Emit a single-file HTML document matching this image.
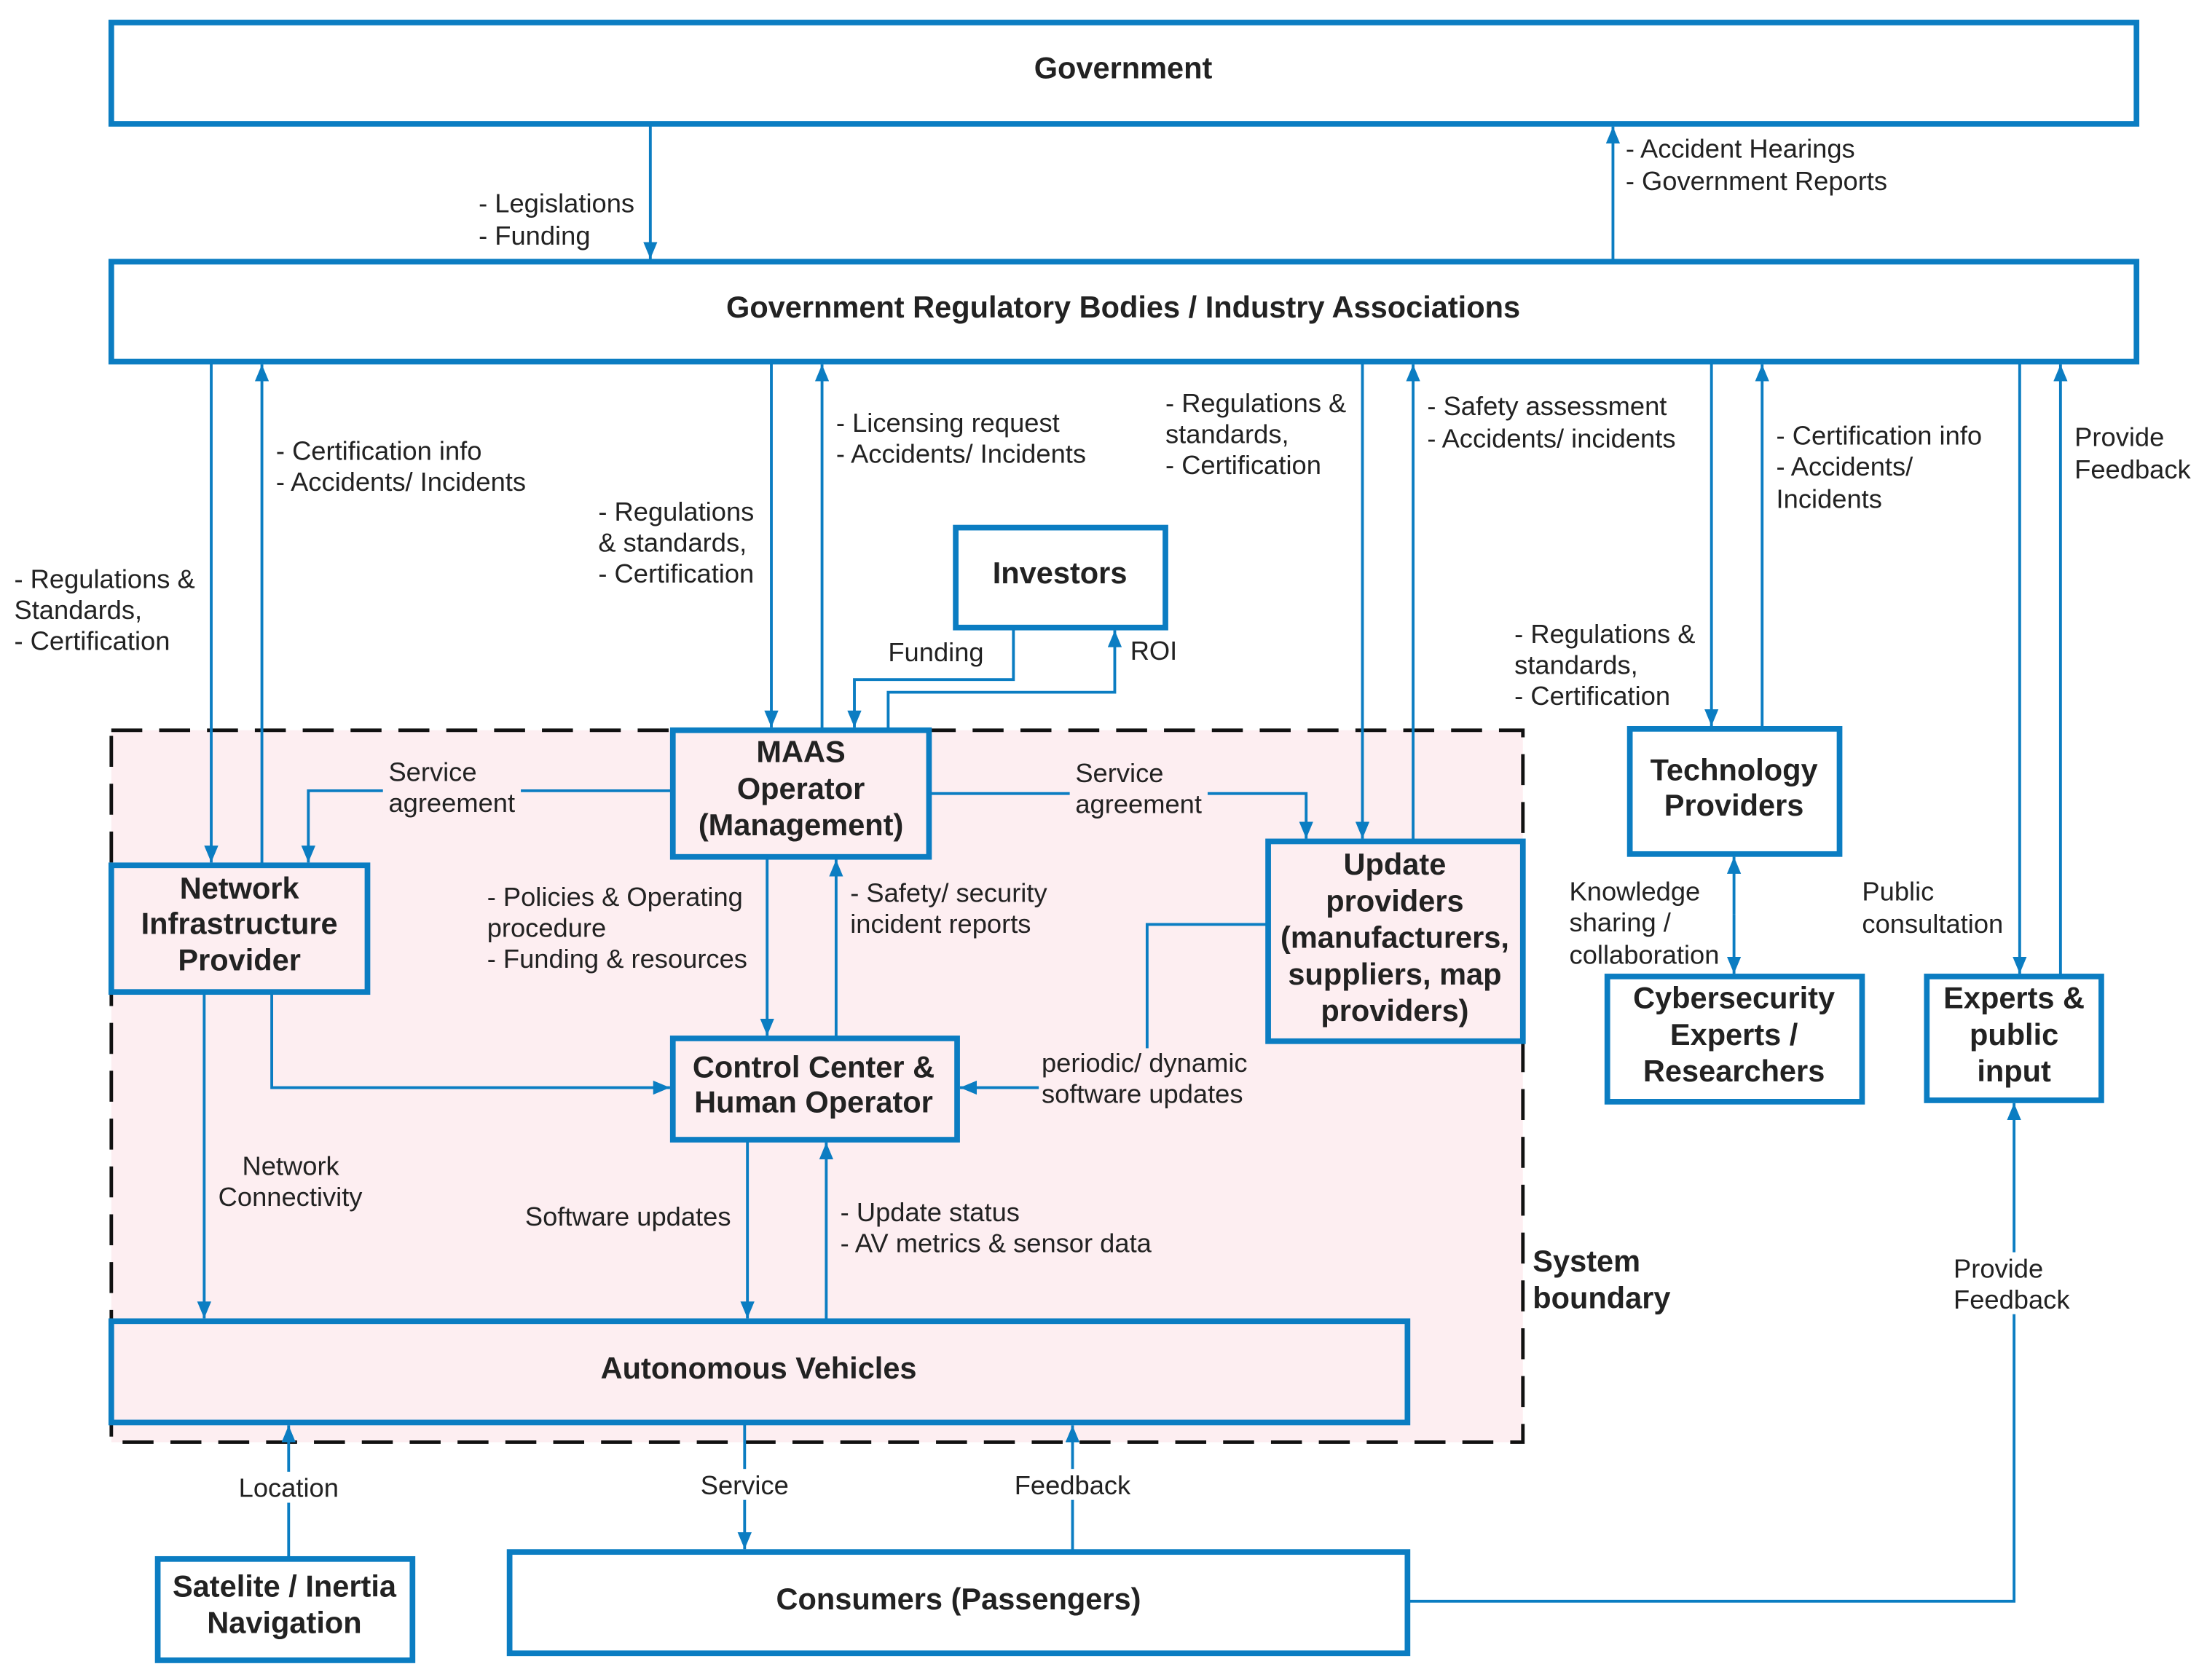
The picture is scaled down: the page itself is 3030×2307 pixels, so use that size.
<!DOCTYPE html>
<html><head><meta charset="utf-8"><style>
html,body{margin:0;padding:0;background:#fff;}
svg{display:block;}
text{font-family:"Liberation Sans",Arial,sans-serif;fill:#222;}
.l{font-size:18.8px;}
.b{font-size:21.5px;font-weight:bold;fill:#111;}
.bx{fill:#fff;stroke:#0b7dc2;stroke-width:4;}
.pk{fill:#fdeef1;stroke:#0b7dc2;stroke-width:4;}
.ln{fill:none;stroke:#0b7dc2;stroke-width:2;}
</style></head><body>
<svg width="3030" height="2307" viewBox="0 0 1568 1194" xmlns="http://www.w3.org/2000/svg">
<defs>
<marker id="a" viewBox="0 0 12 10" refX="12" refY="5" markerWidth="12" markerHeight="10" markerUnits="userSpaceOnUse" orient="auto">
<path d="M0,0 L12,5 L0,10 z" fill="#0b7dc2"/></marker>
</defs>
<rect width="1568" height="1194" fill="#fff"/>
<rect x="79" y="519" width="1003" height="506" fill="#fdeef1" stroke="#111" stroke-width="2.5" stroke-dasharray="22,12"/>

<g class="ln" marker-end="url(#a)">
<path d="M462,88 V184"/>
<path d="M1146,186 V90"/>
<path d="M150,257 V613"/>
<path d="M186,615 V259"/>
<path d="M548,257 V517"/>
<path d="M584,519 V259"/>
<path d="M720,446 V483 H607 V517"/>
<path d="M631,519 V492 H792 V448"/>
<path d="M968,257 V596"/>
<path d="M1004,598 V259"/>
<path d="M1216,257 V516"/>
<path d="M1252,518 V259"/>
<path d="M1435,257 V692"/>
<path d="M1464,694 V259"/>
<path d="M478,562 H219 V613"/>
<path d="M660,564 H928 V596"/>
<path d="M545,609 V736"/>
<path d="M594,738 V611"/>
<path d="M193,705 V773 H476"/>
<path d="M901,657 H815 V773 H682"/>
<path d="M145,705 V937"/>
<path d="M531,810 V937"/>
<path d="M587,939 V812"/>
<path d="M205,1108 V1013"/>
<path d="M529,1011 V1101"/>
<path d="M762,1103 V1013"/>
<path d="M1000,1138 H1431 V784"/>
<path d="M1232,650 V692"/>
<path d="M1232,650 V609"/>
</g>

<rect class="bx" x="79" y="16" width="1439" height="72"/>
<rect class="bx" x="79" y="186" width="1439" height="71"/>
<rect class="bx" x="679" y="375" width="149" height="71"/>
<rect class="pk" x="478" y="519" width="182" height="90"/>
<rect class="pk" x="79" y="615" width="182" height="90"/>
<rect class="pk" x="901" y="598" width="181" height="142"/>
<rect class="pk" x="478" y="738" width="202" height="72"/>
<rect class="pk" x="79" y="939" width="921" height="72"/>
<rect class="bx" x="1158" y="518" width="149" height="89"/>
<rect class="bx" x="1142" y="694" width="181" height="89"/>
<rect class="bx" x="1369" y="694" width="124" height="88"/>
<rect class="bx" x="112" y="1108" width="181" height="72"/>
<rect class="bx" x="362" y="1103" width="638" height="72"/>

<rect x="272" y="538" width="98" height="44" fill="#fdeef1"/>
<rect x="760" y="540" width="98" height="44" fill="#fdeef1"/>
<rect x="738" y="745" width="152" height="42" fill="#fdeef1"/>
<rect x="163" y="1046" width="84" height="22" fill="#fff"/>
<rect x="493" y="1044" width="72" height="22" fill="#fff"/>
<rect x="714" y="1044" width="96" height="22" fill="#fff"/>
<rect x="1384" y="890" width="94" height="44" fill="#fff"/>

<g class="b" text-anchor="middle" dominant-baseline="middle">
<text x="798" y="50">Government</text>
<text x="798" y="220">Government Regulatory Bodies / Industry Associations</text>
<text x="753" y="409">Investors</text>
<text x="569" y="536">MAAS</text><text x="569" y="562">Operator</text><text x="569" y="588">(Management)</text>
<text x="170" y="633">Network</text><text x="170" y="658">Infrastructure</text><text x="170" y="684">Provider</text>
<text x="991" y="616">Update</text><text x="991" y="642">providers</text><text x="991" y="668">(manufacturers,</text><text x="991" y="694">suppliers, map</text><text x="991" y="720">providers)</text>
<text x="578" y="760">Control Center &amp;</text><text x="578" y="785">Human Operator</text>
<text x="539" y="974">Autonomous Vehicles</text>
<text x="1232" y="549">Technology</text><text x="1232" y="574">Providers</text>
<text x="1232" y="711">Cybersecurity</text><text x="1232" y="737">Experts /</text><text x="1232" y="763">Researchers</text>
<text x="1431" y="711">Experts &amp;</text><text x="1431" y="737">public</text><text x="1431" y="763">input</text>
<text x="202" y="1129">Satelite / Inertia</text><text x="202" y="1155">Navigation</text>
<text x="681" y="1138">Consumers (Passengers)</text>
</g>
<g class="b" dominant-baseline="middle">
<text x="1089" y="898">System</text><text x="1089" y="924">boundary</text>
</g>

<g class="l" dominant-baseline="middle">
<text x="340" y="146">- Legislations</text><text x="340" y="169">- Funding</text>
<text x="1155" y="107">- Accident Hearings</text><text x="1155" y="130">- Government Reports</text>
<text x="196" y="322">- Certification info</text><text x="196" y="344">- Accidents/ Incidents</text>
<text x="10" y="413">- Regulations &amp;</text><text x="10" y="435">Standards,</text><text x="10" y="457">- Certification</text>
<text x="594" y="302">- Licensing request</text><text x="594" y="324">- Accidents/ Incidents</text>
<text x="425" y="365">- Regulations</text><text x="425" y="387">&amp; standards,</text><text x="425" y="409">- Certification</text>
<text x="828" y="288">- Regulations &amp;</text><text x="828" y="310">standards,</text><text x="828" y="332">- Certification</text>
<text x="1014" y="290">- Safety assessment</text><text x="1014" y="313">- Accidents/ incidents</text>
<text x="1262" y="311">- Certification info</text><text x="1262" y="333">- Accidents/</text><text x="1262" y="356">Incidents</text>
<text x="1474" y="312">Provide</text><text x="1474" y="335">Feedback</text>
<text x="1076" y="452">- Regulations &amp;</text><text x="1076" y="474">standards,</text><text x="1076" y="496">- Certification</text>
<text x="631" y="465">Funding</text><text x="803" y="464">ROI</text>
<text x="276" y="550">Service</text><text x="276" y="572">agreement</text>
<text x="764" y="551">Service</text><text x="764" y="573">agreement</text>
<text x="346" y="639">- Policies &amp; Operating</text><text x="346" y="661">procedure</text><text x="346" y="683">- Funding &amp; resources</text>
<text x="604" y="636">- Safety/ security</text><text x="604" y="658">incident reports</text>
<text x="1115" y="635">Knowledge</text><text x="1115" y="657">sharing /</text><text x="1115" y="680">collaboration</text>
<text x="1323" y="635">Public</text><text x="1323" y="658">consultation</text>
<text x="740" y="757">periodic/ dynamic</text><text x="740" y="779">software updates</text>
<text x="172" y="830">Network</text><text x="155" y="852">Connectivity</text>
<text x="373" y="866">Software updates</text>
<text x="597" y="863">- Update status</text><text x="597" y="885">- AV metrics &amp; sensor data</text>
<text x="1388" y="903">Provide</text><text x="1388" y="925">Feedback</text>
</g>
<g class="l" dominant-baseline="middle" text-anchor="middle">
<text x="205" y="1059">Location</text>
<text x="529" y="1057">Service</text>
<text x="762" y="1057">Feedback</text>
</g>
</svg>
</body></html>
